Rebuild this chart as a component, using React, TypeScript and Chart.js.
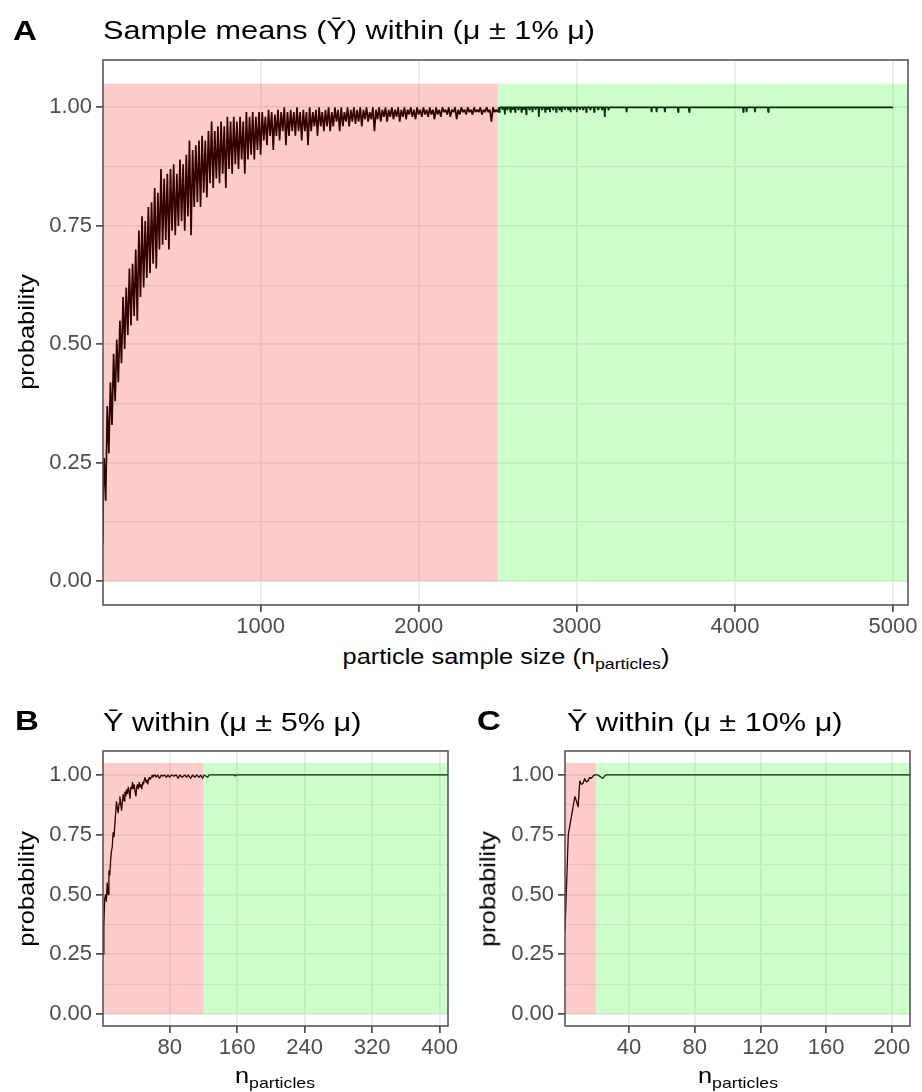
import React, { useEffect, useRef } from "react";
import { Chart, registerables } from "chart.js";
Chart.register(...registerables);

// ---------- data ----------
const range = (a: number, b: number, s: number) => {
  const r: number[] = [];
  for (let v = a; v <= b + 1e-9; v += s) r.push(v);
  return r;
};

// Panel A (±1%): n = particle sample size, p = probability
const nAStart = [2, 5];
const pAStart = [0.08, 0.2];
const nAFine = range(10, 1000, 10);
const pAFine = [
  0.26, 0.17, 0.37, 0.27, 0.42, 0.33, 0.48, 0.38, 0.51, 0.42,
  0.55, 0.46, 0.60, 0.49, 0.62, 0.52, 0.66, 0.54, 0.67, 0.56,
  0.70, 0.55, 0.74, 0.60, 0.77, 0.62, 0.76, 0.64, 0.79, 0.65,
  0.80, 0.67, 0.83, 0.66, 0.82, 0.70, 0.87, 0.71, 0.85, 0.72,
  0.86, 0.70, 0.87, 0.74, 0.88, 0.73, 0.86, 0.75, 0.89, 0.76,
  0.88, 0.74, 0.90, 0.77, 0.93, 0.73, 0.91, 0.79, 0.92, 0.80,
  0.93, 0.79, 0.94, 0.82, 0.93, 0.81, 0.95, 0.84, 0.97, 0.83,
  0.95, 0.85, 0.96, 0.84, 0.97, 0.86, 0.96, 0.83, 0.98, 0.87,
  0.97, 0.86, 0.98, 0.88, 0.97, 0.87, 0.98, 0.89, 0.97, 0.86,
  0.99, 0.89, 0.98, 0.90, 0.99, 0.89, 0.98, 0.91, 0.99, 0.90,
];
const nAMid = range(1010, 2500, 10);
const pAMid = [
  0.99, 0.93, 0.98, 0.92, 0.995, 0.94, 0.99, 0.91, 0.985, 0.94,
  0.995, 0.93, 0.99, 0.95, 1.0, 0.92, 0.99, 0.94, 0.995, 0.95,
  0.99, 0.94, 1.0, 0.95, 0.99, 0.93, 0.995, 0.95, 0.99, 0.92,
  1.0, 0.95, 0.99, 0.96, 0.995, 0.94, 1.0, 0.96, 0.99, 0.95,
  0.995, 0.96, 1.0, 0.95, 0.99, 0.96, 1.0, 0.97, 0.995, 0.95,
  1.0, 0.96, 0.99, 0.97, 1.0, 0.96, 0.995, 0.97, 1.0, 0.965,
  0.995, 0.97, 1.0, 0.96, 0.995, 0.975, 1.0, 0.97, 0.99, 0.975,
  1.0, 0.95, 0.995, 0.975, 1.0, 0.97, 0.995, 0.98, 1.0, 0.97,
  0.995, 0.98, 1.0, 0.975, 0.995, 0.98, 1.0, 0.97, 0.995, 0.98,
  1.0, 0.975, 0.995, 0.985, 1.0, 0.98, 0.995, 0.975, 1.0, 0.985,
  0.995, 0.98, 1.0, 0.985, 0.995, 0.98, 1.0, 0.985, 0.995, 0.975,
  1.0, 0.985, 0.995, 0.98, 1.0, 0.99, 0.995, 0.985, 1.0, 0.98,
  0.995, 0.99, 1.0, 0.975, 0.995, 0.985, 1.0, 0.99, 0.995, 0.985,
  1.0, 0.99, 0.995, 0.985, 1.0, 0.99, 0.995, 0.99, 1.0, 0.985,
  0.995, 0.99, 1.0, 0.99, 0.995, 0.97, 1.0, 0.99, 0.995, 0.99,
];
// dips below 1.00 after n = 2500
const nADips = [
  2510, 2530, 2545, 2560, 2580, 2595, 2610, 2630, 2650, 2665,
  2680, 2700, 2720, 2740, 2760, 2780, 2800, 2815, 2830, 2850,
  2870, 2890, 2905, 2925, 2945, 2960, 2980, 3000, 3020, 3040,
  3060, 3085, 3110, 3135, 3160, 3177, 3200, 3315, 3473, 3505,
  3557, 3641, 3711, 4053, 4074, 4127, 4211,
];
const pADips = [
  0.99, 0.995, 0.985, 0.995, 0.99, 0.995, 0.99, 0.995, 0.99, 0.995,
  0.985, 0.995, 0.99, 0.995, 0.98, 0.995, 0.99, 0.995, 0.99, 0.995,
  0.99, 0.995, 0.99, 0.995, 0.995, 0.99, 0.995, 0.99, 0.995, 0.995,
  0.99, 0.995, 0.99, 0.995, 0.995, 0.98, 0.995, 0.99, 0.99, 0.99,
  0.99, 0.99, 0.99, 0.99, 0.99, 0.99, 0.99,
];
const nAEnd = 5000;

// Panel B (±5%)
const nB = [
  1, 2, 3, 4, 5, 6, 7, 8, 9, 10, 11, 12, 13, 14, 15, 16, 17, 18, 19, 20,
  21, 22, 23, 24, 25, 26, 27, 28, 29, 30, 31, 32, 33, 34, 35, 36, 37, 38, 39, 40,
  41, 42, 43, 44, 45, 46, 47, 48, 49, 50, 51, 52, 53, 54, 55, 56, 57, 58, 59, 60,
  61, 62, 63, 64, 66, 68, 70, 72, 74, 76, 78, 80, 82, 85, 88, 90, 92, 95, 98, 100,
  102, 105, 107, 110, 112, 115, 117, 119, 121, 125, 127, 157, 158, 159, 420,
];
const pB = [
  0.25, 0.37, 0.48, 0.50, 0.47, 0.55, 0.50, 0.60, 0.58, 0.64,
  0.68, 0.70, 0.76, 0.74, 0.79, 0.84, 0.89, 0.86, 0.84, 0.88,
  0.91, 0.88, 0.85, 0.89, 0.92, 0.89, 0.93, 0.91, 0.94, 0.92,
  0.95, 0.93, 0.90, 0.95, 0.94, 0.97, 0.94, 0.96, 0.93, 0.91,
  0.95, 0.96, 0.94, 0.97, 0.95, 0.96, 0.94, 0.97, 0.96, 0.98,
  0.99, 0.97, 0.98, 0.96, 0.98, 0.99, 0.98, 0.99, 1.0, 0.99,
  1.0, 0.995, 1.0, 0.99, 1.0, 0.985, 1.0, 0.995, 1.0, 0.99,
  1.0, 0.99, 1.0, 0.995, 1.0, 0.985, 1.0, 0.99, 1.0, 0.99,
  1.0, 0.985, 1.0, 0.99, 1.0, 0.99, 1.0, 0.985, 1.0, 0.99,
  1.0, 1.0, 0.995, 1.0, 1.0,
];

// Panel C (±10%)
const nC = [1, 2, 3, 4, 5, 6, 7, 8, 9, 10, 11, 12, 13, 14, 15, 16, 17, 18, 19, 20, 21, 22, 23, 24, 25, 26, 230];
const pC = [
  0.35, 0.55, 0.75, 0.79, 0.83, 0.87, 0.91, 0.89, 0.865, 0.975,
  0.96, 0.965, 0.985, 0.97, 0.975, 0.99, 0.985, 0.995, 1.0, 1.0,
  1.0, 0.995, 0.99, 0.985, 0.995, 1.0, 1.0,
];

// ticks and thresholds
const xTicksA = [1000, 2000, 3000, 4000, 5000];
const xTicksB = [80, 160, 240, 320, 400];
const xTicksC = [40, 80, 120, 160, 200];
const yMajor = [0, 0.25, 0.5, 0.75, 1];
const yMinor = [0.125, 0.375, 0.625, 0.875];
const splitA = 2500;
const splitB = 120;
const splitC = 20;

// ---------- helpers ----------
type Pt = { x: number; y: number };
const zip = (xs: number[], ys: number[]): Pt[] => xs.map((x, i) => ({ x, y: ys[i] }));

const ptsA: Pt[] = [
  ...zip(nAStart, pAStart),
  ...zip(nAFine, pAFine),
  ...zip(nAMid, pAMid),
  ...nADips.flatMap((n, i) => [
    { x: n - 3, y: 1 },
    { x: n, y: pADips[i] },
    { x: n + 3, y: 1 },
  ]),
  { x: nAEnd, y: 1 },
];
const ptsB = zip(nB, pB);
const ptsC = zip(nC, pC);

const FONT = '"Liberation Sans", Arial, Helvetica, sans-serif';
const SX = 1.18;
const GRID = "#EBEBEB";

type Area = { l: number; t: number; r: number; b: number };

function Panel(props: {
  pts: Pt[];
  xMin: number;
  xMax: number;
  xTicks: number[];
  split: number;
  left: number;
  top: number;
  width: number;
  height: number;
  area: Area;
  lineWidth: number;
}) {
  const ref = useRef<HTMLCanvasElement>(null);
  useEffect(() => {
    const { pts, xMin, xMax, xTicks, split, width, height, area, lineWidth } = props;
    const yAll = [...yMajor, ...yMinor].sort((a, b) => a - b);
    const isMajor = (v: number) => yMajor.includes(v);
    const zones = {
      id: "zones",
      afterDatasetsDraw(chart: any) {
        const { ctx, chartArea: ca, scales } = chart;
        const x = scales.x;
        const y = scales.y;
        ctx.save();
        ctx.beginPath();
        ctx.rect(ca.left, ca.top, ca.right - ca.left, ca.bottom - ca.top);
        ctx.clip();
        const y0 = y.getPixelForValue(0);
        const y1 = y.getPixelForValue(1.05);
        const xs = x.getPixelForValue(split);
        ctx.fillStyle = "rgba(255,0,0,0.2)";
        ctx.fillRect(ca.left, y1, xs - ca.left, y0 - y1);
        ctx.fillStyle = "rgba(0,255,0,0.2)";
        ctx.fillRect(xs, y1, ca.right - xs, y0 - y1);
        ctx.restore();
      },
      afterDraw(chart: any) {
        const { ctx, chartArea: ca } = chart;
        ctx.save();
        ctx.strokeStyle = "#4d4d4d";
        ctx.lineWidth = 1.5;
        ctx.strokeRect(ca.left, ca.top, ca.right - ca.left, ca.bottom - ca.top);
        ctx.restore();
      },
    };
    const chart = new Chart(ref.current as HTMLCanvasElement, {
      type: "line",
      data: {
        datasets: [
          {
            data: pts,
            borderColor: "#000000",
            borderWidth: lineWidth,
            borderJoinStyle: "bevel",
            pointRadius: 0,
            tension: 0,
            fill: false,
          },
        ],
      },
      options: {
        animation: false,
        responsive: false,
        maintainAspectRatio: false,
        devicePixelRatio: 1,
        layout: { padding: { left: 0, top: area.t, right: width - area.r, bottom: 0 } },
        plugins: { legend: { display: false }, tooltip: { enabled: false } },
        scales: {
          x: {
            type: "linear",
            min: xMin,
            max: xMax,
            afterBuildTicks: (s: any) => {
              s.ticks = xTicks.map((v) => ({ value: v }));
            },
            afterFit: (s: any) => {
              s.height = height - area.b;
            },
            border: { display: false },
            grid: {
              color: GRID,
              lineWidth: 1.8,
              tickLength: 7,
              tickColor: "#333333",
              tickWidth: 1.5,
            },
            ticks: {
              color: "#4d4d4d",
              font: { family: FONT, size: 22 },
              padding: 2,
              maxRotation: 0,
              autoSkip: false,
              callback: (v: any) => String(v),
            },
          },
          y: {
            type: "linear",
            min: -0.05,
            max: 1.1,
            afterBuildTicks: (s: any) => {
              s.ticks = yAll.map((v) => ({ value: v }));
            },
            afterFit: (s: any) => {
              s.width = area.l;
            },
            border: { display: false },
            grid: {
              color: GRID,
              lineWidth: (c: any) => (isMajor(c.tick?.value) ? 1.8 : 1.2),
              tickLength: 7,
              tickColor: (c: any) => (isMajor(c.tick?.value) ? "#333333" : "rgba(0,0,0,0)"),
              tickWidth: 1.5,
            },
            ticks: {
              color: "#4d4d4d",
              font: { family: FONT, size: 22 },
              padding: 4,
              autoSkip: false,
              callback: (v: any) => (isMajor(Number(v)) ? Number(v).toFixed(2) : ""),
            },
          },
        },
      },
      plugins: [zones],
    } as any);
    return () => chart.destroy();
  }, []);
  return (
    <canvas
      ref={ref}
      width={props.width}
      height={props.height}
      style={{
        position: "absolute",
        left: props.left,
        top: props.top,
        width: props.width,
        height: props.height,
      }}
    />
  );
}

function Txt(props: {
  x: number;
  baseline: number;
  size: number;
  bold?: boolean;
  center?: boolean;
  children: React.ReactNode;
}) {
  const { x, baseline, size, bold, center } = props;
  return (
    <div
      style={{
        position: "absolute",
        left: x,
        top: baseline - 0.8465 * size,
        fontFamily: FONT,
        fontSize: size,
        lineHeight: `${size}px`,
        fontWeight: bold ? 700 : 400,
        color: "#000",
        whiteSpace: "nowrap",
        transformOrigin: center ? "center center" : "left center",
        transform: center ? `translateX(-50%) scaleX(${SX})` : `scaleX(${SX})`,
      }}
    >
      {props.children}
    </div>
  );
}

function YTitle(props: { cx: number; cy: number }) {
  return (
    <div
      style={{
        position: "absolute",
        left: props.cx,
        top: props.cy,
        fontFamily: FONT,
        fontSize: 21.5,
        lineHeight: "21.5px",
        color: "#000",
        whiteSpace: "nowrap",
        transformOrigin: "center center",
        transform: `translate(-50%,-50%) rotate(-90deg) scaleX(${SX})`,
      }}
    >
      probability
    </div>
  );
}

const Sub = (p: { children: React.ReactNode }) => (
  <span style={{ fontSize: 15, verticalAlign: "-5px", lineHeight: "0px" }}>{p.children}</span>
);

export default function App() {
  return (
    <div
      style={{
        position: "absolute",
        left: 0,
        top: 0,
        width: 922,
        height: 1092,
        background: "#ffffff",
        overflow: "hidden",
      }}
    >
      <Panel
        pts={ptsA}
        xMin={3}
        xMax={5095}
        xTicks={xTicksA}
        split={splitA}
        left={0}
        top={0}
        width={922}
        height={640}
        area={{ l: 103, t: 60, r: 908, b: 605 }}
        lineWidth={1.7}
      />
      <Panel
        pts={ptsB}
        xMin={1}
        xMax={410}
        xTicks={xTicksB}
        split={splitB}
        left={0}
        top={700}
        width={461}
        height={370}
        area={{ l: 103, t: 51, r: 448, b: 326 }}
        lineWidth={1.3}
      />
      <Panel
        pts={ptsC}
        xMin={1}
        xMax={211}
        xTicks={xTicksC}
        split={splitC}
        left={461}
        top={700}
        width={461}
        height={370}
        area={{ l: 104, t: 51, r: 449, b: 326 }}
        lineWidth={1.3}
      />

      <Txt x={13} baseline={41} size={28} bold>
        A
      </Txt>
      <Txt x={103} baseline={39} size={26}>
        Sample means (Ȳ) within (μ ± 1% μ)
      </Txt>
      <YTitle cx={28} cy={332} />
      <Txt x={505.5} baseline={665} size={21.5} center>
        particle sample size (n<Sub>particles</Sub>)
      </Txt>

      <Txt x={15} baseline={731} size={28} bold>
        B
      </Txt>
      <Txt x={103} baseline={731} size={26}>
        Ȳ within (μ ± 5% μ)
      </Txt>
      <YTitle cx={28} cy={888.5} />
      <Txt x={275} baseline={1084} size={21.5} center>
        n<Sub>particles</Sub>
      </Txt>

      <Txt x={477} baseline={731} size={28} bold>
        C
      </Txt>
      <Txt x={567} baseline={731} size={26}>
        Ȳ within (μ ± 10% μ)
      </Txt>
      <YTitle cx={489} cy={888.5} />
      <Txt x={737.5} baseline={1084} size={21.5} center>
        n<Sub>particles</Sub>
      </Txt>
    </div>
  );
}
